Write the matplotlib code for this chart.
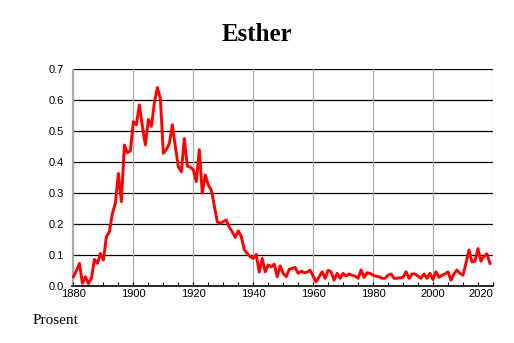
import matplotlib.pyplot as plt
from matplotlib.ticker import MultipleLocator

years = list(range(1880, 2020))
percent = [
    0.030, 0.050, 0.073, 0.009, 0.030, 0.008, 0.025, 0.086, 0.073, 0.105,
    0.084, 0.159, 0.175, 0.234, 0.267, 0.363, 0.272, 0.455, 0.430, 0.436,
    0.530, 0.520, 0.584, 0.515, 0.455, 0.537, 0.515, 0.590, 0.640, 0.605,
    0.428, 0.440, 0.460, 0.520, 0.450, 0.385, 0.368, 0.476, 0.387, 0.383,
    0.375, 0.337, 0.440, 0.300, 0.358, 0.326, 0.310, 0.260, 0.207, 0.202,
    0.208, 0.213, 0.190, 0.175, 0.157, 0.178, 0.160, 0.118, 0.105, 0.095,
    0.089, 0.102, 0.045, 0.089, 0.046, 0.068, 0.062, 0.071, 0.030, 0.065,
    0.041, 0.030, 0.054, 0.057, 0.060, 0.041, 0.048, 0.043, 0.045, 0.051,
    0.032, 0.014, 0.030, 0.046, 0.025, 0.051, 0.046, 0.019, 0.041, 0.025,
    0.041, 0.032, 0.039, 0.035, 0.032, 0.025, 0.052, 0.028, 0.043, 0.041,
    0.035, 0.032, 0.030, 0.025, 0.025, 0.035, 0.039, 0.025, 0.025, 0.027,
    0.028, 0.046, 0.025, 0.039, 0.039, 0.032, 0.025, 0.039, 0.025, 0.041,
    0.021, 0.046, 0.028, 0.035, 0.039, 0.046, 0.019, 0.039, 0.052, 0.041,
    0.035, 0.073, 0.116, 0.078, 0.080, 0.121, 0.080, 0.096, 0.104, 0.073,
]
xtick_years = [1880, 1900, 1920, 1940, 1960, 1980, 2000, 2020]

fig = plt.figure(figsize=(5.14, 3.43), dpi=100)
ax = fig.add_axes([0.140, 0.166, 0.819, 0.633])

for y in [0.1, 0.2, 0.3, 0.4, 0.5, 0.6, 0.7]:
    ax.axhline(y, color="black", lw=0.9, zorder=1)
for x in xtick_years:
    ax.axvline(x, color="#aaaaaa", lw=0.9, zorder=1)

ax.plot(years, percent, color="#ff0000", lw=2.1, zorder=3)

ax.set_xlim(1879.5, 2020)
ax.set_ylim(0, 0.7)
ax.set_xticks(xtick_years)
ax.set_xticklabels([str(y) for y in xtick_years])
ax.xaxis.set_minor_locator(MultipleLocator(5))
ax.set_yticks([0, 0.1, 0.2, 0.3, 0.4, 0.5, 0.6, 0.7])
ax.set_yticklabels(["0.0", "0.1", "0.2", "0.3", "0.4", "0.5", "0.6", "0.7"])

ax.tick_params(axis="x", which="both", direction="in", length=3, width=0.8,
               labelsize=8, pad=2)
ax.tick_params(axis="y", direction="in", length=0, labelsize=8, pad=6)
ax.get_xticklabels()[-1].set_horizontalalignment("right")
for lab in ax.get_xticklabels() + ax.get_yticklabels():
    lab.set_fontfamily("Liberation Sans")

for side in ["top", "right"]:
    ax.spines[side].set_visible(False)
ax.spines["left"].set_color("#aaaaaa")
ax.spines["bottom"].set_color("black")
ax.spines["bottom"].set_linewidth(1.2)

fig.text(0.50, 0.898, "Esther", ha="center", va="center", fontsize=18,
         fontweight="bold", family="Liberation Serif")
fig.text(0.064, 0.066, "Prosent", ha="left", va="center", fontsize=11,
         family="Liberation Serif")

fig.savefig("out.png", dpi=100)
plt.close()
